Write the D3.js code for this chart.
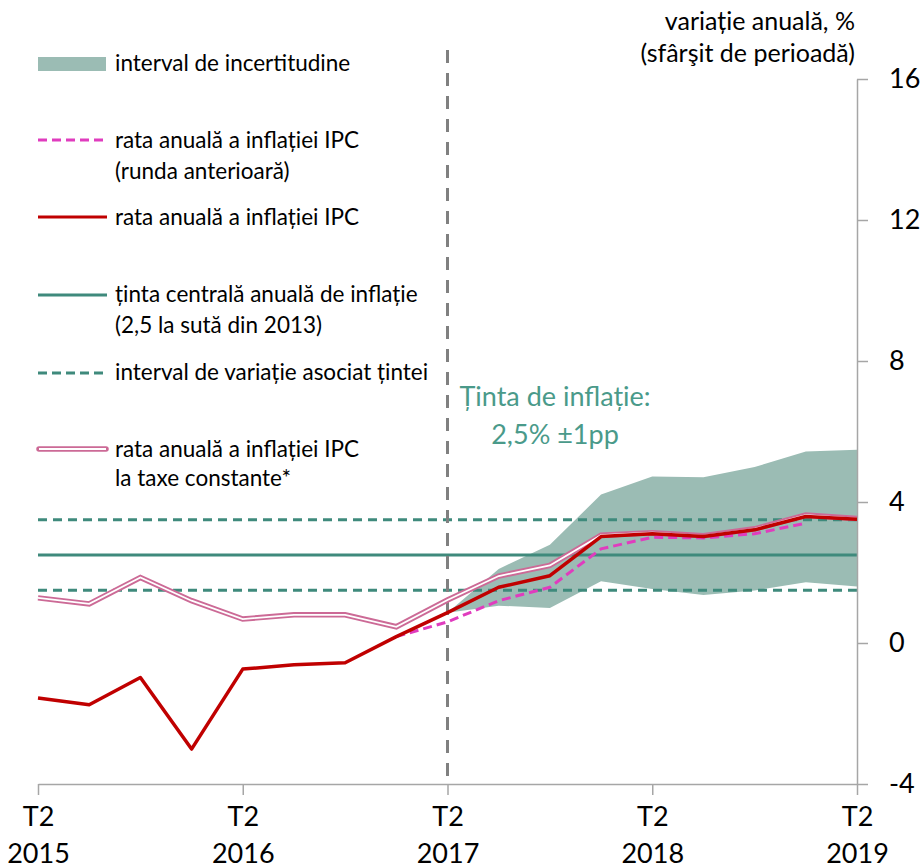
<!DOCTYPE html>
<html>
<head>
<meta charset="utf-8">
<script src="https://cdn.jsdelivr.net/npm/d3@7"></script>
<style>
  body { margin: 0; background: #fff; }
  svg { font-family: Lato, "Noto Sans", sans-serif; }
</style>
</head>
<body>
<svg id="chart" width="920" height="868"></svg>
<script>
// quarters T2 2015 .. T2 2019
const quarters = ["T2 2015","T3 2015","T4 2015","T1 2016","T2 2016","T3 2016","T4 2016","T1 2017",
  "T2 2017","T3 2017","T4 2017","T1 2018","T2 2018","T3 2018","T4 2018","T1 2019","T2 2019"];
const tickQuarters = [0, 4, 8, 12, 16];
const tickLabels = [["T2","2015"],["T2","2016"],["T2","2017"],["T2","2018"],["T2","2019"]];
const yTicks = [-4, 0, 4, 8, 12, 16];

// rata anuala a inflatiei IPC
const cpi = [-1.56, -1.75, -0.98, -3.01, -0.74, -0.62, -0.56, 0.18, 0.86, 1.58, 1.91, 3.02, 3.1, 3.02, 3.21, 3.59, 3.51];
// la taxe constante
const cpiConstTax = [1.28, 1.11, 1.86, 1.2, 0.68, 0.8, 0.8, 0.46, 1.22, 1.9, 2.2, 3.06, 3.13, 3.04, 3.24, 3.63, 3.53];
// runda anterioara (from T1 2017 to T1 2019)
const cpiPrev = [null, null, null, null, null, null, null, 0.18, 0.6, 1.2, 1.58, 2.67, 3.0, 2.98, 3.1, 3.4, null];
// interval de incertitudine
const bandLow  = [null, null, null, null, null, null, null, null, 0.86, 1.06, 0.99, 1.75, 1.53, 1.36, 1.49, 1.72, 1.6];
const bandHigh = [null, null, null, null, null, null, null, null, 0.86, 2.1, 2.79, 4.21, 4.72, 4.7, 4.99, 5.43, 5.48];
const target = 2.5, targetLow = 1.5, targetHigh = 3.5;
const forecastStart = 8;

const teal = "#3f8a7c";
const svg = d3.select("#chart");

const x = d3.scaleLinear().domain([0, quarters.length - 1]).range([38, 857]);
const y = d3.scaleLinear().domain([-4, 16]).range([784, 79]);

// band
const band = quarters.map((q, i) => ({i, lo: bandLow[i], hi: bandHigh[i]})).filter(d => d.lo != null);
svg.append("path").datum(band)
  .attr("fill", "#9bbcb4")
  .attr("d", d3.area().x(d => x(d.i)).y0(d => y(d.lo)).y1(d => y(d.hi)));

// target lines
svg.append("line").attr("x1", x(0)).attr("x2", x(16)).attr("y1", y(target)).attr("y2", y(target))
  .attr("stroke", teal).attr("stroke-width", 3);
[targetLow, targetHigh].forEach(v => {
  svg.append("line").attr("x1", x(0)).attr("x2", x(16)).attr("y1", y(v)).attr("y2", y(v))
    .attr("stroke", teal).attr("stroke-width", 3).attr("stroke-dasharray", "9,6");
});

// forecast separator
svg.append("line").attr("x1", x(forecastStart)).attr("x2", x(forecastStart)).attr("y1", 50).attr("y2", 784)
  .attr("stroke", "#808080").attr("stroke-width", 3).attr("stroke-dasharray", "13,10");

// axes
const yAxis = svg.append("g").attr("transform", `translate(${x(16)},0)`)
  .call(d3.axisRight(y).tickValues(yTicks).tickSize(11).tickSizeOuter(0).tickPadding(21)
    .tickFormat(d => String(d)));
yAxis.select(".domain").attr("stroke", "#a6a6a6").attr("stroke-width", 1.5);
yAxis.selectAll(".tick line").attr("stroke", "#a6a6a6").attr("stroke-width", 1.5);
yAxis.selectAll(".tick text").attr("font-size", 27).attr("font-family", "Lato").attr("fill", "#000");

const xAxis = svg.append("g").attr("transform", `translate(0,${y(-4)})`)
  .call(d3.axisBottom(x).tickValues(tickQuarters).tickSize(11).tickSizeOuter(0).tickFormat(""));
xAxis.select(".domain").attr("stroke", "#a6a6a6").attr("stroke-width", 1.5);
xAxis.selectAll(".tick line").attr("stroke", "#a6a6a6").attr("stroke-width", 1.5);
xAxis.selectAll(".tick").each(function(d, k) {
  const t = d3.select(this).append("text").attr("fill", "#000").attr("font-size", 27)
    .attr("font-family", "Lato").attr("text-anchor", "middle");
  t.append("tspan").attr("x", 0).attr("y", 42).text(tickLabels[k][0]);
  t.append("tspan").attr("x", 0).attr("y", 79).text(tickLabels[k][1]);
});

// series
const line = d3.line().defined(d => d.v != null).x(d => x(d.i)).y(d => y(d.v));
const pts = arr => arr.map((v, i) => ({i, v}));

svg.append("path").datum(pts(cpiConstTax)).attr("fill", "none")
  .attr("stroke", "#cc6a96").attr("stroke-width", 5.5).attr("d", line);
svg.append("path").datum(pts(cpiConstTax)).attr("fill", "none")
  .attr("stroke", "#fff").attr("stroke-width", 1.8).attr("d", line);
svg.append("path").datum(pts(cpiPrev)).attr("fill", "none")
  .attr("stroke", "#e03cbe").attr("stroke-width", 3).attr("stroke-dasharray", "9,5").attr("d", line);
svg.append("path").datum(pts(cpi)).attr("fill", "none")
  .attr("stroke", "#c00000").attr("stroke-width", 3.5).attr("stroke-linejoin", "round").attr("d", line);

// axis title
const title = svg.append("text").attr("text-anchor", "end").attr("font-size", 25).attr("fill", "#000");
title.append("tspan").attr("x", 855).attr("y", 30).text("variație anuală, %");
title.append("tspan").attr("x", 855).attr("y", 62).text("(sfârşit de perioadă)");

// target annotation
const ann = svg.append("text").attr("font-size", 27).attr("fill", "#4a9a8a").attr("text-anchor", "middle");
ann.append("tspan").attr("x", 555).attr("y", 406).text("Ținta de inflație:");
ann.append("tspan").attr("x", 555).attr("y", 444).text("2,5% ±1pp");

// legend
const legend = [
  {type: "band", ly: 64, lines: ["interval de incertitudine"], ys: [71]},
  {type: "prev", ly: 140, lines: ["rata anuală a inflației IPC", "(runda anterioară)"], ys: [148, 179]},
  {type: "cpi", ly: 217, lines: ["rata anuală a inflației IPC"], ys: [225]},
  {type: "target", ly: 295, lines: ["ținta centrală anuală de inflație", "(2,5 la sută din 2013)"], ys: [302, 333]},
  {type: "range", ly: 373, lines: ["interval de variație asociat țintei"], ys: [380]},
  {type: "tax", ly: 449, lines: ["rata anuală a inflației IPC", "la taxe constante*"], ys: [457, 486]}
];
const lg = svg.append("g");
legend.forEach(item => {
  const g = lg.append("g");
  if (item.type === "band") {
    g.append("rect").attr("x", 38).attr("y", item.ly - 7).attr("width", 68).attr("height", 14).attr("fill", "#9bbcb4");
  } else if (item.type === "tax") {
    g.append("line").attr("x1", 39).attr("x2", 106).attr("y1", item.ly).attr("y2", item.ly)
      .attr("stroke", "#cc6a96").attr("stroke-width", 5.5).attr("stroke-linecap", "round");
    g.append("line").attr("x1", 39).attr("x2", 106).attr("y1", item.ly).attr("y2", item.ly)
      .attr("stroke", "#fff").attr("stroke-width", 1.8);
  } else {
    const st = {prev: ["#e03cbe", "9,5"], cpi: ["#c00000", null], target: [teal, null], range: [teal, "9,5"]}[item.type];
    g.append("line").attr("x1", 38).attr("x2", 107).attr("y1", item.ly).attr("y2", item.ly)
      .attr("stroke", st[0]).attr("stroke-width", 3).attr("stroke-dasharray", st[1]);
  }
  item.lines.forEach((t, k) => {
    g.append("text").attr("x", 115).attr("y", item.ys[k]).attr("font-size", 22.5).attr("fill", "#000").text(t);
  });
});
</script>
</body>
</html>
